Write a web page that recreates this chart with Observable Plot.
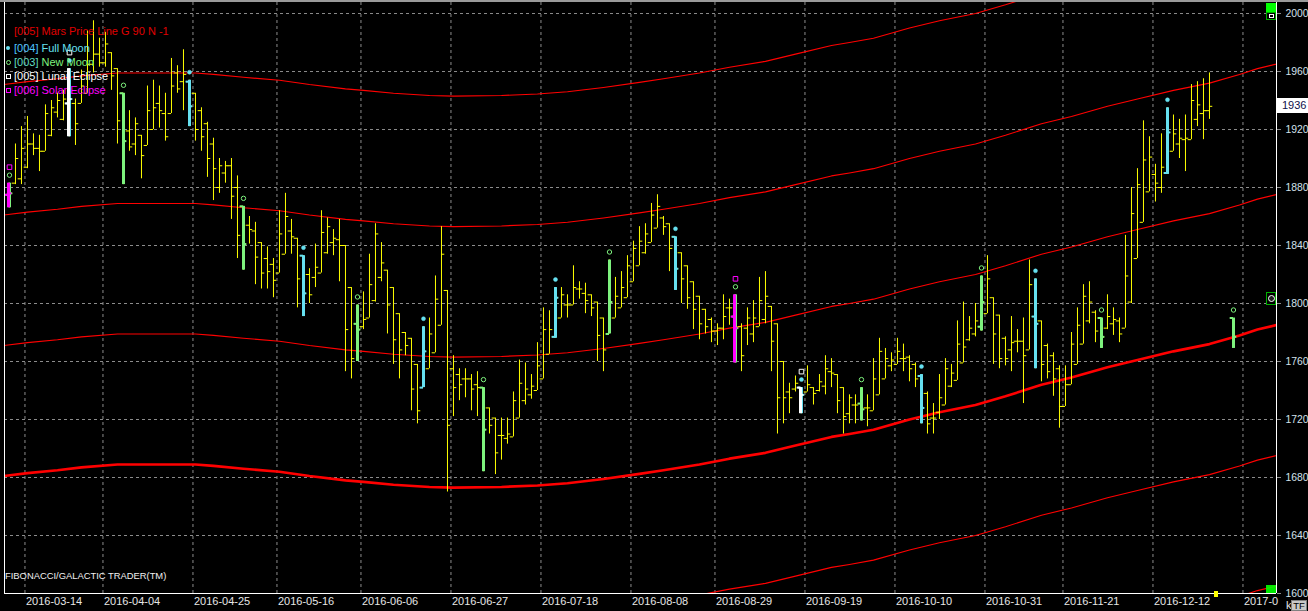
<!DOCTYPE html>
<html><head><meta charset="utf-8">
<script src="https://cdn.jsdelivr.net/npm/d3@7"></script>
<script src="https://cdn.jsdelivr.net/npm/@observablehq/plot@0.6"></script>
<style>
html,body{margin:0;padding:0;background:#000;overflow:hidden;}
#wrap{position:relative;width:1308px;height:611px;background:#000;font-family:"Liberation Sans",Arial,sans-serif;overflow:hidden;}
#wrap svg{display:block;}
.ov{position:absolute;white-space:nowrap;line-height:1;}
.mk{position:absolute;box-sizing:border-box;}
</style></head><body><div id="wrap"></div>
<script>
// ---- daily OHLC bars (bar index 0 = 2016-03-09) ----
const opens = [1875,1883,1886,1894,1910,1907,1905,1916,1932,1927,
1938,1938,1938,1945,1965,1972,1966,1973,1962,1945,
1919,1910,1916,1909,1920,1938,1931,1931,1959,1953,
1953,1945,1933,1924,1910,1880,1890,1895,1880,1867,
1854,1850,1842,1831,1827,1821,1834,1850,1845,1833,
1820,1818,1821,1835,1842,1844,1840,1811,1786,1784,
1790,1802,1818,1823,1811,1793,1780,1776,1758,1742,
1755,1766,1785,1809,1755,1751,1748,1748,1744,1742,
1728,1721,1709,1707,1708,1721,1733,1737,1740,1748,
1765,1777,1790,1799,1799,1810,1807,1806,1801,1790,
1779,1790,1797,1804,1815,1826,1835,1842,1852,1859,
1855,1846,1835,1826,1815,1805,1796,1789,1781,1783,
1797,1791,1784,1783,1779,1784,1789,1798,1786,1760,
1739,1741,1742,1739,1742,1740,1743,1753,1751,1742,
1724,1730,1731,1728,1726,1737,1748,1757,1758,1762,
1763,1758,1750,1738,1721,1725,1730,1743,1747,1759,
1775,1779,1784,1793,1804,1792,1776,1768,1774,1774,
1768,1791,1788,1771,1764,1755,1729,1744,1758,1772,
1788,1794,1790,1783,1786,1788,1783,1801,1831,1856,
1877,1889,1880,1890,1905,1910,1913,1913,1927,1931,
1933];
const highs = [1883,1910,1922,1929,1917,1916,1937,1940,1945,1947,
1962,1941,1961,1988,1995,1983,1987,1973,1962,1945,
1933,1928,1916,1950,1954,1950,1945,1969,1964,1975,
1954,1945,1935,1925,1914,1900,1898,1900,1888,1867,
1860,1856,1842,1839,1831,1864,1876,1858,1845,1833,
1824,1841,1864,1859,1851,1858,1840,1811,1799,1808,
1834,1855,1842,1823,1811,1793,1780,1776,1758,1784,
1790,1819,1853,1809,1764,1755,1755,1751,1753,1742,
1728,1721,1721,1721,1739,1761,1759,1751,1773,1797,
1795,1811,1811,1806,1826,1815,1814,1806,1801,1790,
1830,1818,1822,1833,1843,1853,1855,1869,1875,1860,
1855,1846,1835,1826,1815,1805,1796,1790,1786,1806,
1803,1806,1786,1797,1802,1818,1822,1798,1786,1760,
1745,1750,1742,1757,1742,1751,1764,1762,1751,1742,
1737,1737,1742,1737,1762,1776,1769,1766,1776,1772,
1764,1759,1751,1739,1731,1751,1762,1758,1788,1801,
1791,1800,1819,1833,1804,1792,1777,1791,1782,1790,
1830,1817,1788,1772,1766,1757,1757,1780,1797,1813,
1815,1795,1790,1806,1797,1790,1847,1880,1893,1926,
1915,1896,1917,1935,1930,1927,1930,1951,1953,1955,
1959];
const lows = [1866,1882,1882,1893,1902,1891,1905,1915,1928,1926,
1915,1909,1938,1945,1959,1963,1963,1947,1910,1882,
1905,1902,1886,1909,1920,1921,1912,1931,1945,1933,
1922,1912,1905,1887,1871,1876,1883,1858,1831,1823,
1841,1813,1810,1810,1804,1821,1834,1834,1797,1791,
1800,1811,1821,1834,1833,1815,1753,1748,1760,1782,
1790,1801,1815,1779,1758,1748,1764,1726,1717,1742,
1755,1766,1785,1670,1722,1733,1735,1726,1722,1684,
1710,1682,1692,1703,1708,1721,1730,1734,1740,1748,
1765,1776,1790,1790,1799,1803,1793,1791,1760,1753,
1779,1790,1797,1804,1815,1826,1834,1842,1852,1847,
1822,1809,1800,1796,1782,1775,1779,1773,1771,1775,
1785,1759,1753,1771,1773,1784,1786,1753,1710,1717,
1724,1739,1724,1739,1730,1739,1737,1742,1724,1710,
1717,1717,1719,1715,1726,1737,1748,1753,1758,1753,
1746,1742,1717,1710,1710,1720,1730,1742,1747,1759,
1774,1777,1781,1793,1758,1755,1757,1753,1766,1731,
1768,1755,1746,1748,1736,1714,1729,1744,1758,1772,
1786,1773,1769,1782,1778,1773,1783,1800,1831,1856,
1877,1870,1876,1889,1905,1900,1891,1913,1922,1913,
1927];
const closes = [1876,1900,1907,1910,1907,1905,1931,1935,1940,1941,
1941,1924,1950,1965,1972,1966,1979,1957,1926,1912,
1908,1924,1902,1933,1935,1933,1915,1950,1948,1958,
1936,1920,1915,1900,1893,1895,1895,1874,1847,1841,
1851,1832,1821,1822,1816,1848,1860,1846,1817,1807,
1806,1825,1849,1853,1845,1840,1782,1762,1782,1789,
1813,1848,1828,1799,1775,1768,1771,1741,1726,1767,
1779,1803,1834,1716,1742,1744,1748,1741,1742,1713,
1716,1697,1709,1710,1733,1745,1741,1743,1757,1782,
1782,1804,1806,1799,1811,1810,1802,1797,1778,1768,
1801,1805,1811,1826,1838,1843,1848,1861,1867,1853,
1838,1824,1817,1804,1796,1786,1784,1781,1783,1791,
1797,1783,1764,1790,1790,1802,1805,1774,1735,1735,
1735,1745,1737,1744,1738,1746,1755,1752,1733,1722,
1735,1730,1727,1728,1748,1767,1762,1761,1767,1762,
1755,1748,1728,1717,1721,1735,1755,1752,1772,1770,
1783,1788,1801,1817,1779,1762,1762,1773,1774,1764,
1813,1786,1758,1753,1748,1729,1744,1772,1785,1805,
1801,1781,1777,1791,1789,1779,1819,1862,1882,1899,
1901,1883,1894,1918,1917,1914,1914,1940,1937,1933,
1936];

// projected (future) event bar
const projBars = [204];
const projOpens = [1790];
const projHighs = [1790];
const projLows = [1769];
const projCloses = [1777];

// lunar / solar events (bar indices)
const fullMoonBars = [10, 30, 49, 69, 91, 111, 132, 152, 171, 193];
const newMoonBars = [0, 19, 39, 58, 79, 100, 121, 142, 162, 182, 204];
const lunarEclipseBars = [10, 132];
const solarEclipseBars = [0, 121];

// Mars price line (base harmonic) and its 90-point offsets
const marsBars = [-1,3,8,12,18,31,34,39,45,50,56,59,64,70,74,82,88,93,99,105,109,115,120,126,131,137,140,144,150,155,161,166,172,177,183,188,194,200,205,208,212];
const marsValues = [1681,1683,1685,1687,1689,1689,1688,1686,1684,1681,1678,1677,1675,1673.5,1673,1673.5,1674.5,1676,1679,1682.5,1685,1689,1693,1697,1702,1708,1710,1713,1720,1725,1730,1736,1744,1749,1756,1761,1767,1772,1778,1782,1786];
const marsOffsets = [-180, -90, 0, 90, 180, 270];

// axes
const yTicks = [1600,1640,1680,1720,1760,1800,1840,1880,1920,1960,2000];
const tickBars = [3,16,31,45,59,74,89,104,118,133,148,163,176,191,206];
const tickLabels = ["2016-03-14","2016-04-04","2016-04-25","2016-05-16","2016-06-06","2016-06-27","2016-07-18","2016-08-08","2016-08-29","2016-09-19","2016-10-10","2016-10-31","2016-11-21","2016-12-12","2017-0"];

// ---- build ----
const C_FULL = "#66e0f0", C_NEW = "#7ef27e", C_LUNAR = "#ffffff", C_SOLAR = "#ff00ff", C_BAR = "#ffff00", C_RED = "#ff0000";
const bars = opens.map((o, i) => ({k: i, o, h: highs[i], l: lows[i], c: closes[i]}));
const proj = projBars.map((k, i) => ({k, o: projOpens[i], h: projHighs[i], l: projLows[i], c: projCloses[i]}));
const byK = new Map([...bars, ...proj].map(d => [d.k, d]));
const ev = list => list.map(k => byK.get(k));

const mars = [];
for (const n of marsOffsets) marsBars.forEach((k, i) => mars.push({k, v: marsValues[i] + n, n}));

const xTickPos = tickBars.map(b => b - 0.42);
const labelOf = new Map(xTickPos.map((p, i) => [p, tickLabels[i]]));
const xDomain = [-0.83, 211.17];

function ohlc(data, color, w, tw, dx = 0) {
  return [
    Plot.ruleX(data, {x: "k", y1: "l", y2: "h", stroke: color, strokeWidth: w, dx}),
    Plot.ruleY(data, {y: "o", x1: d => d.k - 0.55, x2: "k", stroke: color, strokeWidth: tw, dx}),
    Plot.ruleY(data, {y: "c", x1: "k", x2: d => d.k + 0.55, stroke: color, strokeWidth: tw, dx})
  ];
}

const chart = Plot.plot({
  width: 1308, height: 611,
  marginLeft: 4, marginRight: 32, marginTop: 2, marginBottom: 18,
  x: {type: "linear", domain: xDomain},
  y: {domain: [1600, 2007.6]},
  style: {background: "#000", color: "#e6e6e6", fontFamily: "Liberation Sans, Arial, sans-serif", fontSize: "11px"},
  marks: [
    Plot.gridY(yTicks.filter(v => v > 1600), {stroke: "#8c8c8c", strokeOpacity: 1, strokeDasharray: "3,3"}),
    Plot.gridX(xTickPos, {stroke: "#8c8c8c", strokeOpacity: 1, strokeDasharray: "3,3"}),
    Plot.line(mars.filter(d => d.n !== 0), {x: "k", y: "v", z: "n", stroke: C_RED, strokeWidth: 1.1, clip: true}),
    Plot.line(mars.filter(d => d.n === 0), {x: "k", y: "v", stroke: C_RED, strokeWidth: 2.6, clip: true}),
    ...ohlc(bars, C_BAR, 1, 1),
    ...ohlc(ev(fullMoonBars), C_FULL, 3, 2),
    ...ohlc(ev(newMoonBars), C_NEW, 3, 2),
    ...ohlc(ev(lunarEclipseBars), C_LUNAR, 3, 2, -1),
    ...ohlc(ev(solarEclipseBars), C_SOLAR, 3, 2, -1),
    Plot.dot(ev(fullMoonBars), {x: "k", y: "h", dy: -8, r: 2, fill: C_FULL, stroke: C_FULL, strokeWidth: 0.5}),
    Plot.dot(ev(newMoonBars), {x: "k", y: "h", dy: -8, r: 2.2, fill: "none", stroke: C_NEW, strokeWidth: 1}),
    Plot.dot(ev(lunarEclipseBars), {x: "k", y: "h", dy: -16, symbol: "square", r: 2.6, fill: "none", stroke: C_LUNAR, strokeWidth: 1}),
    Plot.dot(ev(solarEclipseBars), {x: "k", y: "h", dy: -16, symbol: "square", r: 2.6, fill: "none", stroke: C_SOLAR, strokeWidth: 1}),
    Plot.ruleX(xDomain, {stroke: "#ffffff", strokeWidth: 1}),
    Plot.ruleY([1600], {stroke: "#ffffff", strokeWidth: 1}),
    Plot.axisX(xTickPos, {anchor: "bottom", tickSize: 0, tickPadding: 4, textAnchor: "start", dx: 1, fill: "#e6e6e6", fontSize: 11, tickFormat: d => labelOf.get(d)}),
    Plot.axisY(yTicks, {anchor: "right", tickSize: 4, tickPadding: 5, stroke: "#8c8c8c", fill: "#d4e0ec", fontSize: 10.4, tickFormat: d => String(d)})
  ]
});

const wrap = document.getElementById("wrap");
wrap.appendChild(chart);

function add(html) { wrap.insertAdjacentHTML("beforeend", html); }

// last price box, placed through the y scale
const ys = chart.scale("y");
const lastY = ys.apply(closes[closes.length - 1]);
add(`<div class="ov" style="left:1277px;top:${lastY - 7.5}px;width:31px;height:15px;background:#fff;color:#10104a;font-size:11px;line-height:15px;padding-left:5px;box-sizing:border-box">${closes[closes.length - 1]}</div>`);

// legend
add(`<div class="ov" style="left:14px;top:25.7px;font-size:11px;color:#e00000">[005] Mars Price Line G 90 N -1</div>`);
add(`<div class="ov" style="left:14px;top:43.4px;font-size:11px"><span style="color:#4cc4ff">[004]</span> <span style="color:${C_FULL}">Full Moon</span></div>`);
add(`<div class="ov" style="left:14px;top:57.4px;font-size:11px"><span style="color:#5fdcc0">[003]</span> <span style="color:${C_NEW}">New Moon</span></div>`);
add(`<div class="ov" style="left:14px;top:71.4px;font-size:11px;color:#fff">[005] Lunar Eclipse</div>`);
add(`<div class="ov" style="left:14px;top:85.4px;font-size:11px;color:${C_SOLAR}">[006] Solar Eclipse</div>`);
add(`<div class="mk" style="left:6.3px;top:46.3px;width:4px;height:4px;border-radius:50%;background:${C_FULL}"></div>`);
add(`<div class="mk" style="left:5.8px;top:59.8px;width:5px;height:5px;border:1px solid ${C_NEW};border-radius:50%"></div>`);
add(`<div class="mk" style="left:5.8px;top:73.8px;width:5px;height:5px;border:1px solid #fff"></div>`);
add(`<div class="mk" style="left:5.8px;top:87.8px;width:5px;height:5px;border:1px solid ${C_SOLAR}"></div>`);

// footer text
add(`<div class="ov" style="left:5px;top:571px;font-size:9.4px;color:#f0f0f0">FIBONACCI/GALACTIC TRADER(TM)</div>`);

// window decorations
add(`<div class="mk" style="left:0;top:0;width:1308px;height:2px;background:#9a9a9a"></div>`);
add(`<div class="mk" style="left:1266px;top:3px;width:10px;height:9px;background:#00ff00"></div>`);
add(`<div class="mk" style="left:1266px;top:12px;width:10px;height:8px;border:1px solid #00b000;background:#000"><div class="mk" style="left:2px;top:1px;width:5px;height:4px;border:1px solid #fff"></div></div>`);
add(`<div class="mk" style="left:1266px;top:292px;width:10px;height:13px;border:1px solid #00b000;background:#000"><div class="mk" style="left:1px;top:2px;width:7px;height:7px;border:1px solid #fff;border-radius:50%;background:#222"></div></div>`);
add(`<div class="mk" style="left:1266px;top:585px;width:10px;height:8px;background:#00ff00;opacity:0.9"></div>`);
add(`<div class="mk" style="left:1214px;top:591px;width:4px;height:6px;background:#ffff00"></div>`);
add(`<div class="mk" style="left:1291px;top:600px;width:16px;height:11px;background:#c8c8c8;border:1px solid #808080;color:#000;font-size:9.5px;line-height:9px;text-align:center">TF</div>`);
</script>
</body></html>
